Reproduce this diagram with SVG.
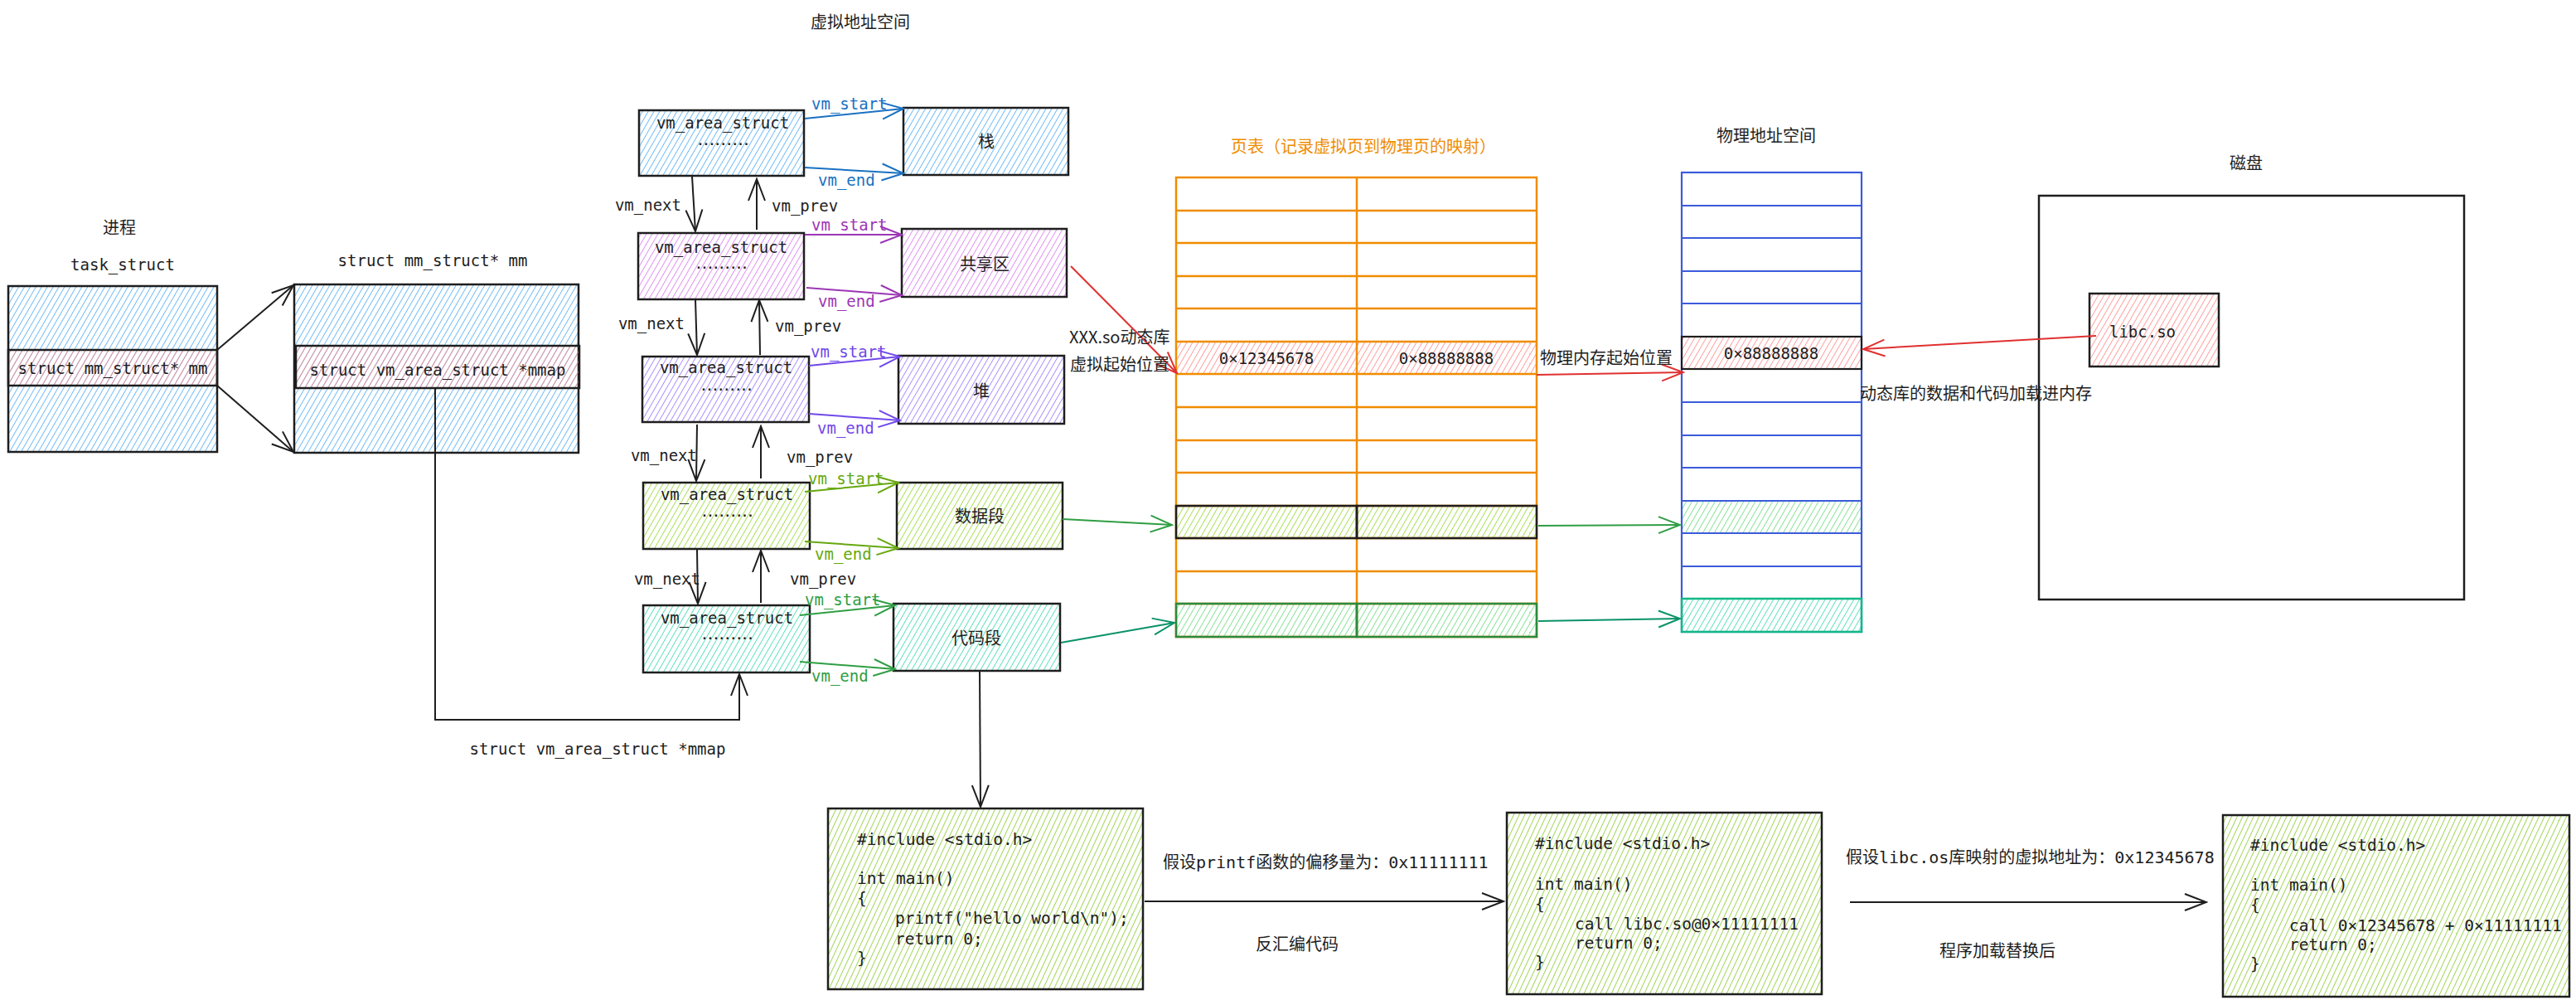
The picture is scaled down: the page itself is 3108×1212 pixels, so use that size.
<svg xmlns="http://www.w3.org/2000/svg" width="3108" height="1212" viewBox="0 0 3108 1212">
<style>
.bx{stroke:#1e1e1e;stroke-width:2.5;}
.t{font-family:"Noto Sans CJK SC","Noto Sans",sans-serif;font-size:20px;fill:#1e1e1e;dominant-baseline:central;}
.m{font-family:"DejaVu Sans Mono","Liberation Mono","Noto Sans CJK SC",monospace;font-size:19px;fill:#1e1e1e;dominant-baseline:central;}
.d{font-family:"DejaVu Sans Mono","Liberation Mono",monospace;font-size:14px;font-weight:bold;fill:#1e1e1e;dominant-baseline:central;letter-spacing:-1.5px;}
.c{font-family:"DejaVu Sans Mono","Liberation Mono",monospace;font-size:19.5px;fill:#1e1e1e;}
.mx{font-family:"DejaVu Sans Mono","Liberation Mono","Noto Sans CJK SC",monospace;font-size:20px;fill:#1e1e1e;dominant-baseline:central;}
.ln{fill:none;stroke-width:2;}
</style>
<defs>
<pattern id="hBlue" width="6" height="6" patternUnits="userSpaceOnUse" patternTransform="rotate(30)"><line x1="0" y1="0" x2="0" y2="6" stroke="#4dabf7" stroke-width="1.6"/></pattern>
<pattern id="hRed" width="6" height="6" patternUnits="userSpaceOnUse" patternTransform="rotate(30)"><line x1="0" y1="0" x2="0" y2="6" stroke="#ff8787" stroke-width="1.6"/></pattern>
<pattern id="hPurple" width="6" height="6" patternUnits="userSpaceOnUse" patternTransform="rotate(30)"><line x1="0" y1="0" x2="0" y2="6" stroke="#da77f2" stroke-width="1.6"/></pattern>
<pattern id="hViolet" width="6" height="6" patternUnits="userSpaceOnUse" patternTransform="rotate(30)"><line x1="0" y1="0" x2="0" y2="6" stroke="#9775fa" stroke-width="1.6"/></pattern>
<pattern id="hLime" width="6" height="6" patternUnits="userSpaceOnUse" patternTransform="rotate(30)"><line x1="0" y1="0" x2="0" y2="6" stroke="#94d82d" stroke-width="1.6"/></pattern>
<pattern id="hTeal" width="6" height="6" patternUnits="userSpaceOnUse" patternTransform="rotate(30)"><line x1="0" y1="0" x2="0" y2="6" stroke="#38d9a9" stroke-width="1.6"/></pattern>
<pattern id="hGreen" width="6" height="6" patternUnits="userSpaceOnUse" patternTransform="rotate(30)"><line x1="0" y1="0" x2="0" y2="6" stroke="#69db7c" stroke-width="1.6"/></pattern>
<pattern id="hCode" width="6" height="6" patternUnits="userSpaceOnUse" patternTransform="rotate(25)"><line x1="0" y1="0" x2="0" y2="6" stroke="#82c91e" stroke-width="1.5"/></pattern>
<marker id="aK" viewBox="0 0 30 24" refX="28" refY="12" markerWidth="30" markerHeight="24" markerUnits="userSpaceOnUse" orient="auto"><path d="M2,2 L28,12 L2,22" fill="none" stroke="#1e1e1e" stroke-width="2"/></marker>
<marker id="aB" viewBox="0 0 30 24" refX="28" refY="12" markerWidth="30" markerHeight="24" markerUnits="userSpaceOnUse" orient="auto"><path d="M2,2 L28,12 L2,22" fill="none" stroke="#1971c2" stroke-width="2"/></marker>
<marker id="aP" viewBox="0 0 30 24" refX="28" refY="12" markerWidth="30" markerHeight="24" markerUnits="userSpaceOnUse" orient="auto"><path d="M2,2 L28,12 L2,22" fill="none" stroke="#9c36b5" stroke-width="2"/></marker>
<marker id="aV" viewBox="0 0 30 24" refX="28" refY="12" markerWidth="30" markerHeight="24" markerUnits="userSpaceOnUse" orient="auto"><path d="M2,2 L28,12 L2,22" fill="none" stroke="#7048e8" stroke-width="2"/></marker>
<marker id="aL" viewBox="0 0 30 24" refX="28" refY="12" markerWidth="30" markerHeight="24" markerUnits="userSpaceOnUse" orient="auto"><path d="M2,2 L28,12 L2,22" fill="none" stroke="#66a80f" stroke-width="2"/></marker>
<marker id="aG" viewBox="0 0 30 24" refX="28" refY="12" markerWidth="30" markerHeight="24" markerUnits="userSpaceOnUse" orient="auto"><path d="M2,2 L28,12 L2,22" fill="none" stroke="#2f9e44" stroke-width="2"/></marker>
<marker id="aT" viewBox="0 0 30 24" refX="28" refY="12" markerWidth="30" markerHeight="24" markerUnits="userSpaceOnUse" orient="auto"><path d="M2,2 L28,12 L2,22" fill="none" stroke="#099268" stroke-width="2"/></marker>
<marker id="aR" viewBox="0 0 30 24" refX="28" refY="12" markerWidth="30" markerHeight="24" markerUnits="userSpaceOnUse" orient="auto"><path d="M2,2 L28,12 L2,22" fill="none" stroke="#e03131" stroke-width="2"/></marker>
</defs>
<rect width="3108" height="1212" fill="#ffffff"/>

<!-- titles -->
<text class="t" x="1038" y="25" text-anchor="middle">虚拟地址空间</text>
<text class="t" x="144" y="273" text-anchor="middle">进程</text>
<text class="m" x="148" y="319" text-anchor="middle">task_struct</text>
<text class="m" x="522" y="314" text-anchor="middle">struct mm_struct* mm</text>
<text class="m" x="721" y="903" text-anchor="middle">struct vm_area_struct *mmap</text>
<text class="t" x="1645" y="175" text-anchor="middle" style="fill:#f08c00">页表（记录虚拟页到物理页的映射）</text>
<text class="t" x="2131" y="162" text-anchor="middle">物理地址空间</text>
<text class="t" x="2710" y="195" text-anchor="middle">磁盘</text>

<!-- task_struct -->
<g id="task_struct">
<rect class="bx" x="10" y="345" width="252" height="200" fill="url(#hBlue)"/>
<rect class="bx" x="10" y="422" width="252" height="43" fill="url(#hRed)"/>
<text class="m" x="136" y="444" text-anchor="middle">struct mm_struct* mm</text>
</g>

<!-- mm_struct -->
<g id="mm_struct">
<rect class="bx" x="355" y="343" width="343" height="203" fill="url(#hBlue)"/>
<rect class="bx" x="357" y="417" width="342" height="51" fill="url(#hRed)"/>
<text class="m" x="528" y="446" text-anchor="middle">struct vm_area_struct *mmap</text>
</g>

<!-- vm_area_struct nodes -->
<g id="vma1">
<rect class="bx" x="771" y="133" width="199" height="79" fill="url(#hBlue)"/>
<text class="m" x="872" y="148" text-anchor="middle">vm_area_struct</text>
<text class="d" x="872" y="170" text-anchor="middle">.........</text>
</g>
<g id="vma2">
<rect class="bx" x="770" y="281" width="200" height="80" fill="url(#hPurple)"/>
<text class="m" x="870" y="298" text-anchor="middle">vm_area_struct</text>
<text class="d" x="870" y="319" text-anchor="middle">.........</text>
</g>
<g id="vma3">
<rect class="bx" x="775" y="430" width="201" height="79" fill="url(#hViolet)"/>
<text class="m" x="876" y="443" text-anchor="middle">vm_area_struct</text>
<text class="d" x="876" y="466" text-anchor="middle">.........</text>
</g>
<g id="vma4">
<rect class="bx" x="776" y="582" width="201" height="80" fill="url(#hLime)"/>
<text class="m" x="877" y="596" text-anchor="middle">vm_area_struct</text>
<text class="d" x="877" y="618" text-anchor="middle">.........</text>
</g>
<g id="vma5">
<rect class="bx" x="776" y="730" width="201" height="81" fill="url(#hTeal)"/>
<text class="m" x="877" y="745" text-anchor="middle">vm_area_struct</text>
<text class="d" x="877" y="766" text-anchor="middle">.........</text>
</g>

<!-- regions -->
<g id="stack">
<rect class="bx" x="1090" y="130" width="199" height="81" fill="url(#hBlue)"/>
<text class="t" x="1190" y="169" text-anchor="middle">栈</text>
</g>
<g id="shared">
<rect class="bx" x="1088" y="276" width="199" height="82" fill="url(#hPurple)"/>
<text class="t" x="1188" y="317" text-anchor="middle">共享区</text>
</g>
<g id="heap">
<rect class="bx" x="1084" y="429" width="200" height="82" fill="url(#hViolet)"/>
<text class="t" x="1184" y="470" text-anchor="middle">堆</text>
</g>
<g id="data">
<rect class="bx" x="1082" y="582" width="200" height="80" fill="url(#hLime)"/>
<text class="t" x="1182" y="621" text-anchor="middle">数据段</text>
</g>
<g id="code">
<rect class="bx" x="1078" y="728" width="201" height="81" fill="url(#hTeal)"/>
<text class="t" x="1178" y="768" text-anchor="middle">代码段</text>
</g>

<!-- page table -->
<g id="page_table">
<rect x="1419" y="412" width="435" height="39" fill="url(#hRed)"/>
<rect x="1419" y="610" width="435" height="39" fill="url(#hLime)"/>
<rect x="1419" y="728" width="435" height="40" fill="url(#hGreen)"/>
<g stroke="#f08c00" stroke-width="2.5" fill="none">
<rect x="1419" y="214" width="435" height="554"/>
<line x1="1637" y1="214" x2="1637" y2="768"/>
<path d="M1419 254H1854M1419 293H1854M1419 333H1854M1419 372H1854M1419 412H1854M1419 451H1854M1419 491H1854M1419 531H1854M1419 570H1854M1419 610H1854M1419 649H1854M1419 689H1854M1419 728H1854"/>
</g>
<rect x="1419" y="610" width="218" height="39" fill="none" stroke="#1e1e1e" stroke-width="2.5"/>
<rect x="1637" y="610" width="217" height="39" fill="none" stroke="#1e1e1e" stroke-width="2.5"/>
<rect x="1419" y="728" width="218" height="40" fill="none" stroke="#2b8a3e" stroke-width="2.5"/>
<rect x="1637" y="728" width="217" height="40" fill="none" stroke="#2b8a3e" stroke-width="2.5"/>
<text class="m" x="1528" y="432" text-anchor="middle">0×12345678</text>
<text class="m" x="1745" y="432" text-anchor="middle">0×88888888</text>
</g>

<!-- physical memory -->
<g id="phys_mem">
<rect x="2029" y="406" width="217" height="39" fill="url(#hRed)"/>
<rect x="2029" y="604" width="217" height="39" fill="url(#hGreen)"/>
<rect x="2029" y="722" width="217" height="40" fill="url(#hTeal)"/>
<g stroke="#3b5bdb" stroke-width="2.2" fill="none">
<rect x="2029" y="208" width="217" height="554"/>
<path d="M2029 248H2246M2029 287H2246M2029 327H2246M2029 366H2246M2029 406H2246M2029 445H2246M2029 485H2246M2029 525H2246M2029 564H2246M2029 604H2246M2029 643H2246M2029 683H2246M2029 722H2246"/>
</g>
<rect x="2029" y="406" width="217" height="39" fill="none" stroke="#1e1e1e" stroke-width="2.2"/>
<rect x="2029" y="722" width="217" height="40" fill="none" stroke="#12b886" stroke-width="2.5"/>
<text class="m" x="2137" y="426" text-anchor="middle">0×88888888</text>
</g>

<!-- disk -->
<g id="disk">
<rect class="bx" x="2460" y="236" width="513" height="487" fill="none"/>
</g>
<g id="libc">
<rect class="bx" x="2521" y="354" width="156" height="88" fill="url(#hRed)"/>
<text class="m" x="2585" y="400" text-anchor="middle">libc.so</text>
</g>

<!-- code boxes -->
<g id="src_code">
<rect class="bx" x="999" y="975" width="380" height="218" fill="url(#hCode)"/>
<text class="c" x="1034" y="1019">#include &lt;stdio.h&gt;</text>
<text class="c" x="1034" y="1066">int main()</text>
<text class="c" x="1034" y="1090">{</text>
<text class="c" x="1080" y="1114">printf("hello world\n");</text>
<text class="c" x="1080" y="1139">return 0;</text>
<text class="c" x="1034" y="1162">}</text>
</g>
<g id="disasm_code">
<rect class="bx" x="1818" y="980" width="380" height="219" fill="url(#hCode)"/>
<text class="c" x="1852" y="1024">#include &lt;stdio.h&gt;</text>
<text class="c" x="1852" y="1073">int main()</text>
<text class="c" x="1852" y="1097">{</text>
<text class="c" x="1900" y="1121">call libc.so@0×11111111</text>
<text class="c" x="1900" y="1144">return 0;</text>
<text class="c" x="1852" y="1167">}</text>
</g>
<g id="loaded_code">
<rect class="bx" x="2682" y="983" width="418" height="219" fill="url(#hCode)"/>
<text class="c" x="2715" y="1026">#include &lt;stdio.h&gt;</text>
<text class="c" x="2715" y="1074">int main()</text>
<text class="c" x="2715" y="1098">{</text>
<text class="c" x="2762" y="1123">call 0×12345678 + 0×11111111</text>
<text class="c" x="2762" y="1146">return 0;</text>
<text class="c" x="2715" y="1169">}</text>
</g>

<!-- connectors -->
<g id="connectors">
<line class="ln" stroke="#1e1e1e" x1="262" y1="422" x2="354" y2="344" marker-end="url(#aK)"/>
<line class="ln" stroke="#1e1e1e" x1="262" y1="465" x2="354" y2="545" marker-end="url(#aK)"/>
<polyline class="ln" stroke="#1e1e1e" points="525,468 525,868 892,868 892,813" marker-end="url(#aK)"/>

<line class="ln" stroke="#1971c2" x1="971" y1="143" x2="1090" y2="131" marker-end="url(#aB)"/>
<line class="ln" stroke="#1971c2" x1="971" y1="202" x2="1090" y2="209" marker-end="url(#aB)"/>
<line class="ln" stroke="#9c36b5" x1="971" y1="283" x2="1088" y2="283" marker-end="url(#aP)"/>
<line class="ln" stroke="#9c36b5" x1="973" y1="347" x2="1088" y2="356" marker-end="url(#aP)"/>
<line class="ln" stroke="#7048e8" x1="976" y1="441" x2="1086" y2="430" marker-end="url(#aV)"/>
<line class="ln" stroke="#7048e8" x1="976" y1="499" x2="1086" y2="507" marker-end="url(#aV)"/>
<line class="ln" stroke="#66a80f" x1="971" y1="593" x2="1084" y2="582" marker-end="url(#aL)"/>
<line class="ln" stroke="#66a80f" x1="971" y1="653" x2="1084" y2="661" marker-end="url(#aL)"/>
<line class="ln" stroke="#2f9e44" x1="965" y1="742" x2="1080" y2="730" marker-end="url(#aG)"/>
<line class="ln" stroke="#2f9e44" x1="965" y1="798" x2="1080" y2="807" marker-end="url(#aG)"/>

<line class="ln" stroke="#1e1e1e" x1="835" y1="213" x2="839" y2="279" marker-end="url(#aK)"/>
<line class="ln" stroke="#1e1e1e" x1="913" y1="277" x2="913" y2="216" marker-end="url(#aK)"/>
<line class="ln" stroke="#1e1e1e" x1="839" y1="361" x2="841" y2="428" marker-end="url(#aK)"/>
<line class="ln" stroke="#1e1e1e" x1="917" y1="428" x2="916" y2="362" marker-end="url(#aK)"/>
<line class="ln" stroke="#1e1e1e" x1="841" y1="512" x2="840" y2="580" marker-end="url(#aK)"/>
<line class="ln" stroke="#1e1e1e" x1="918" y1="577" x2="918" y2="514" marker-end="url(#aK)"/>
<line class="ln" stroke="#1e1e1e" x1="841" y1="663" x2="842" y2="728" marker-end="url(#aK)"/>
<line class="ln" stroke="#1e1e1e" x1="918" y1="727" x2="918" y2="664" marker-end="url(#aK)"/>

<line class="ln" stroke="#e03131" x1="1292" y1="321" x2="1420" y2="450" marker-end="url(#aR)"/>
<line class="ln" stroke="#e03131" x1="1854" y1="452" x2="2031" y2="449" marker-end="url(#aR)"/>
<line class="ln" stroke="#e03131" x1="2529" y1="405" x2="2248" y2="421" marker-end="url(#aR)"/>

<line class="ln" stroke="#2f9e44" x1="1282" y1="626" x2="1414" y2="633" marker-end="url(#aG)"/>
<line class="ln" stroke="#2f9e44" x1="1856" y1="634" x2="2027" y2="633" marker-end="url(#aG)"/>
<line class="ln" stroke="#099268" x1="1280" y1="775" x2="1417" y2="751" marker-end="url(#aT)"/>
<line class="ln" stroke="#099268" x1="1856" y1="749" x2="2027" y2="746" marker-end="url(#aT)"/>

<line class="ln" stroke="#1e1e1e" x1="1182" y1="809" x2="1183" y2="973" marker-end="url(#aK)"/>
<line class="ln" stroke="#1e1e1e" x1="1381" y1="1087" x2="1814" y2="1087" marker-end="url(#aK)"/>
<line class="ln" stroke="#1e1e1e" x1="2232" y1="1088" x2="2662" y2="1088" marker-end="url(#aK)"/>

<!-- connector labels -->
<g class="lbl">
<text class="m" x="979" y="125" style="fill:#1971c2">vm_start</text>
<text class="m" x="987" y="217" style="fill:#1971c2">vm_end</text>
<text class="m" x="979" y="271" style="fill:#9c36b5">vm_start</text>
<text class="m" x="987" y="363" style="fill:#9c36b5">vm_end</text>
<text class="m" x="978" y="424" style="fill:#7048e8">vm_start</text>
<text class="m" x="986" y="516" style="fill:#7048e8">vm_end</text>
<text class="m" x="975" y="577" style="fill:#66a80f">vm_start</text>
<text class="m" x="983" y="668" style="fill:#66a80f">vm_end</text>
<text class="m" x="971" y="723" style="fill:#2f9e44">vm_start</text>
<text class="m" x="979" y="815" style="fill:#2f9e44">vm_end</text>

<text class="m" x="822" y="247" text-anchor="end">vm_next</text>
<text class="m" x="931" y="248">vm_prev</text>
<text class="m" x="826" y="390" text-anchor="end">vm_next</text>
<text class="m" x="935" y="393">vm_prev</text>
<text class="m" x="841" y="549" text-anchor="end">vm_next</text>
<text class="m" x="949" y="551">vm_prev</text>
<text class="m" x="845" y="698" text-anchor="end">vm_next</text>
<text class="m" x="953" y="698">vm_prev</text>

<text class="t" x="1290" y="405">XXX.so动态库</text>
<text class="t" x="1291" y="438">虚拟起始位置</text>
<text class="t" x="1858" y="430">物理内存起始位置</text>
<text class="t" x="2244" y="473">动态库的数据和代码加载进内存</text>

<text class="mx" x="1403" y="1040">假设printf函数的偏移量为：0x11111111</text>
<text class="t" x="1565" y="1137" text-anchor="middle">反汇编代码</text>
<text class="mx" x="2227" y="1034">假设libc.os库映射的虚拟地址为：0x12345678</text>
<text class="t" x="2410" y="1145" text-anchor="middle">程序加载替换后</text>
</g>
</g>
</svg>
